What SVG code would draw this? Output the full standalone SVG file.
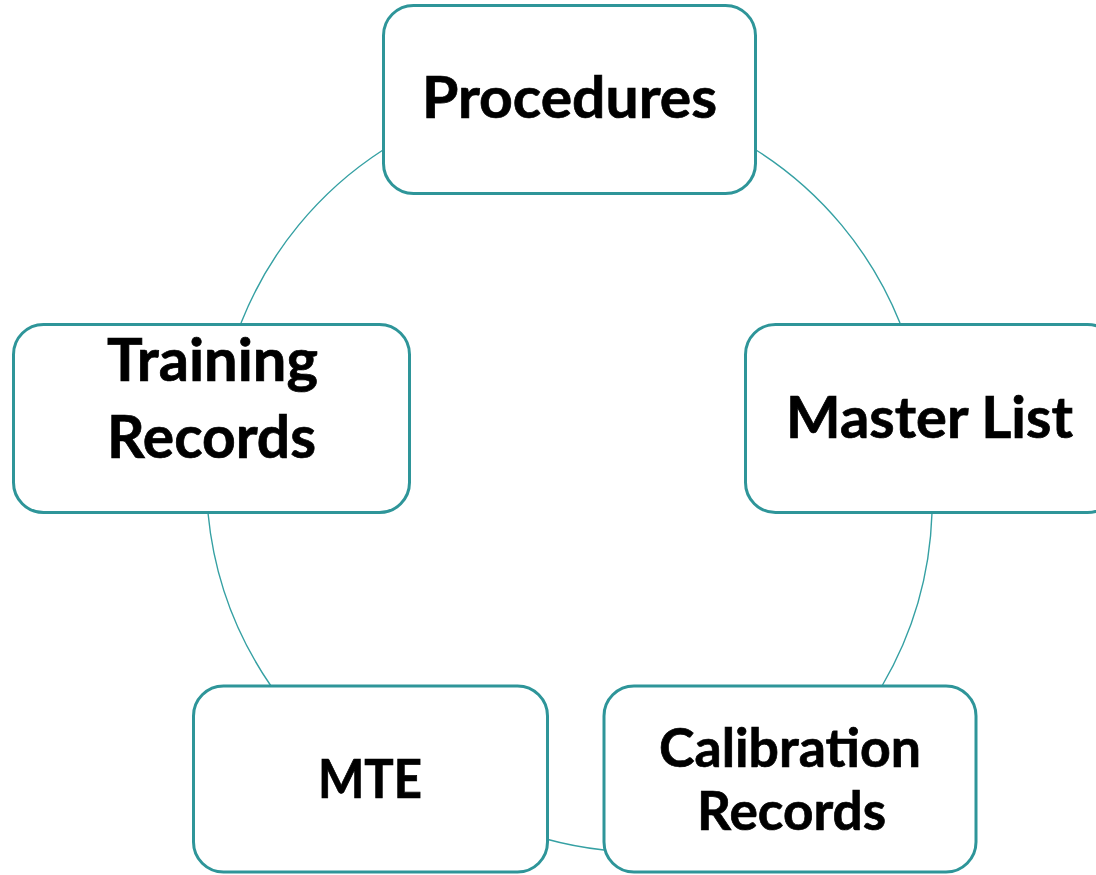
<svg xmlns="http://www.w3.org/2000/svg" width="1096" height="875" viewBox="0 0 1096 875">
<style>
.box{fill:#ffffff;stroke:#2E9599;stroke-width:3}
.arc{fill:none;stroke:#35A0A3;stroke-width:1.4}
.lbl{font-family:Lato,"Open Sans",sans-serif;font-weight:700;fill:#000000;stroke:#000000;stroke-width:0.7;text-anchor:middle}
</style>
<rect width="1096" height="875" fill="#ffffff"/>
<g id="connectors">
<path class="arc" d="M 756 150 A 366 366 0 0 1 900 323"/>
<path class="arc" d="M 932 513 A 366 366 0 0 1 882 686"/>
<path class="arc" d="M 604 850 A 366 366 0 0 1 546 839"/>
<path class="arc" d="M 271 686 A 366 366 0 0 1 208 513"/>
<path class="arc" d="M 241 323 A 366 366 0 0 1 383 150"/>
</g>
<g id="node-procedures">
<rect class="box" x="383.5" y="5.5" width="372" height="188" rx="30"/>
<text class="lbl" x="569.5" y="118" font-size="58" textLength="295" lengthAdjust="spacingAndGlyphs">Procedures</text>
</g>
<g id="node-master-list">
<rect class="box" x="745.5" y="324.5" width="372" height="188" rx="30"/>
<text class="lbl" x="929.5" y="437.5" font-size="57" textLength="287" lengthAdjust="spacingAndGlyphs">Master List</text>
</g>
<g id="node-calibration-records">
<rect class="box" x="604" y="686" width="372" height="186" rx="30"/>
<text class="lbl" x="790" y="767" font-size="54" textLength="262" lengthAdjust="spacingAndGlyphs">Calibration</text>
<text class="lbl" x="791.5" y="830" font-size="54" textLength="189" lengthAdjust="spacingAndGlyphs">Records</text>
</g>
<g id="node-mte">
<rect class="box" x="193.5" y="686" width="354" height="186" rx="30"/>
<text class="lbl" x="370" y="798" font-size="53" textLength="104" lengthAdjust="spacingAndGlyphs">MTE</text>
</g>
<g id="node-training-records">
<rect class="box" x="13.5" y="324.5" width="396" height="188" rx="30"/>
<text class="lbl" x="212.5" y="381" font-size="59" textLength="211" lengthAdjust="spacingAndGlyphs">Training</text>
<text class="lbl" x="211.5" y="458" font-size="59" textLength="209" lengthAdjust="spacingAndGlyphs">Records</text>
</g>
</svg>
